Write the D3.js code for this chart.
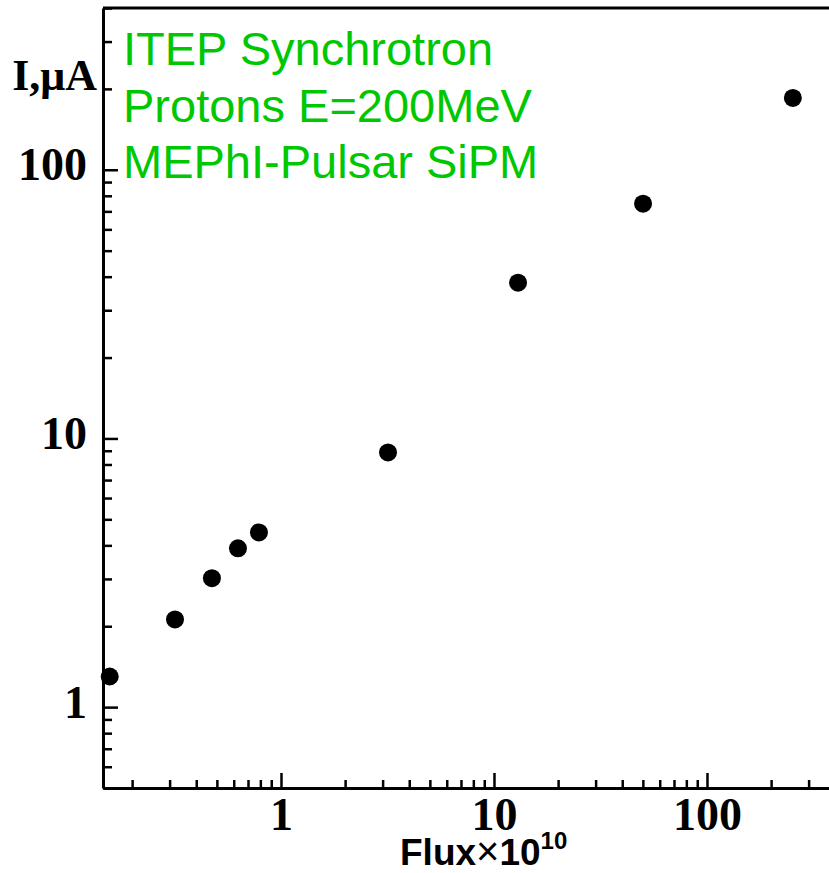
<!DOCTYPE html>
<html>
<head>
<meta charset="utf-8">
<script src="https://cdn.jsdelivr.net/npm/d3@7"></script>
<style>
  body { margin: 0; background: #fff; }
  svg { display: block; }
</style>
</head>
<body>
<div id="chart"></div>
<script>
// data
const fluxValues = [0.157, 0.318, 0.474, 0.628, 0.788, 3.18, 12.97, 50.1, 253];
const currentValues = [1.30, 2.12, 3.02, 3.90, 4.47, 8.87, 38.0, 74.8, 185];
const xMajorTicks = [1, 10, 100];
const yMajorTicks = [1, 10, 100];
const annotationLines = ["ITEP Synchrotron", "Protons E=200MeV", "MEPhI-Pulsar SiPM"];

const points = fluxValues.map((f, i) => ({flux: f, current: currentValues[i]}));

// svg setup
const totalWidth = 829, totalHeight = 873;
const margin = {top: 8, right: 0, bottom: 85, left: 103};
const width = totalWidth - margin.left - margin.right;
const height = totalHeight - margin.top - margin.bottom;

const svg = d3.select("#chart")
    .append("svg")
    .attr("width", totalWidth)
    .attr("height", totalHeight)
    .append("g")
    .attr("transform", "translate(" + margin.left + "," + margin.top + ")");

// scales
const x = d3.scaleLog()
    .domain([0.146, 374])
    .range([0, width]);

const y = d3.scaleLog()
    .domain([0.5, 400])
    .range([height, 0]);

const xMinor = x.ticks().filter(v => !xMajorTicks.includes(v));
const yMinor = y.ticks().filter(v => !yMajorTicks.includes(v));

// points (drawn under the axes)
svg.selectAll("circle.pt")
    .data(points)
    .enter()
    .append("circle")
    .attr("class", "pt")
    .attr("cx", d => x(d.flux))
    .attr("cy", d => y(d.current))
    .attr("r", 9)
    .attr("fill", "black");

// minor ticks
svg.append("g")
    .attr("transform", "translate(0," + height + ")")
    .call(d3.axisBottom(x).tickValues(xMinor).tickSizeInner(-8).tickSizeOuter(0).tickFormat(""))
    .call(g => g.select(".domain").remove())
    .selectAll("line").attr("stroke-width", 2.5);

svg.append("g")
    .call(d3.axisLeft(y).tickValues(yMinor).tickSizeInner(-9).tickSizeOuter(0).tickFormat(""))
    .call(g => g.select(".domain").remove())
    .selectAll("line").attr("stroke-width", 2.5);

// major axes
const xAxis = svg.append("g")
    .attr("transform", "translate(0," + height + ")")
    .call(d3.axisBottom(x).tickValues(xMajorTicks).tickSizeInner(-15).tickSizeOuter(0)
        .tickPadding(9).tickFormat(d3.format("d")));

const yAxis = svg.append("g")
    .call(d3.axisLeft(y).tickValues(yMajorTicks).tickSizeInner(-15).tickSizeOuter(0)
        .tickPadding(16).tickFormat(d3.format("d")));

[xAxis, yAxis].forEach(g => {
    g.select(".domain").attr("stroke-width", 3);
    g.selectAll("line").attr("stroke-width", 2.5);
    g.selectAll("text")
        .attr("font-family", "'Liberation Serif', 'Times New Roman', serif")
        .attr("font-weight", "bold")
        .attr("font-size", "46px")
        .attr("fill", "black");
});
yAxis.selectAll("text").attr("dy", "0.22em");

// top border
svg.append("line")
    .attr("x1", 0)
    .attr("x2", width)
    .attr("y1", 0)
    .attr("y2", 0)
    .attr("stroke", "black")
    .attr("stroke-width", 3);

// y axis title
svg.append("text")
    .attr("x", -6)
    .attr("y", 82)
    .attr("text-anchor", "end")
    .attr("font-family", "'Liberation Serif', 'Times New Roman', serif")
    .attr("font-weight", "bold")
    .attr("font-size", "44px")
    .attr("fill", "black")
    .text("I,μA");

// x axis title
const xTitle = svg.append("text")
    .attr("x", 297)
    .attr("y", height + 77)
    .attr("font-family", "'Liberation Sans', Arial, sans-serif")
    .attr("font-weight", "bold")
    .attr("font-size", "37px")
    .attr("fill", "black");
xTitle.append("tspan").text("Flux");
xTitle.append("tspan").attr("font-weight", "normal").attr("font-size", "40px").text("×");
xTitle.append("tspan").text("10");
xTitle.append("tspan").attr("font-size", "24px").attr("dy", "-0.65em").text("10");

// green annotation
svg.append("g")
    .selectAll("text")
    .data(annotationLines)
    .enter()
    .append("text")
    .attr("x", 20)
    .attr("y", (d, i) => 57 + i * 56.5)
    .attr("font-family", "'Liberation Sans', Arial, sans-serif")
    .attr("font-size", "47px")
    .attr("fill", "#00c800")
    .text(d => d);
</script>
</body>
</html>
